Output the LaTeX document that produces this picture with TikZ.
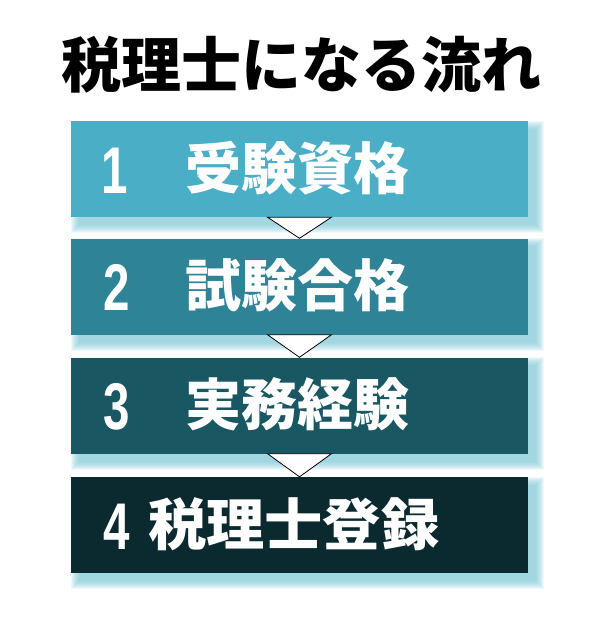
\documentclass[tikz,border=0pt]{standalone}
\usepackage{fontspec}
\usepackage{tikz}
\usetikzlibrary{calc,backgrounds}
\newfontfamily\jpfont{Noto Sans CJK JP}
\newfontfamily\numfont{Liberation Sans}
\definecolor{stepone}{RGB}{74,174,199}
\definecolor{steptwo}{RGB}{46,131,150}
\definecolor{stepthree}{RGB}{25,87,99}
\definecolor{stepfour}{RGB}{11,42,48}
\definecolor{glow}{RGB}{120,196,212}

\begin{document}
\begin{tikzpicture}[x=1pt,y=-1pt]
\tikzstyle{stepbox} = [minimum width=457pt, minimum height=96pt, inner sep=0pt]
\tikzstyle{num} = [anchor=base, inner sep=0pt, text=white, font=\numfont\bfseries\fontsize{66}{66}\selectfont]
\tikzstyle{word} = [anchor=base west, inner sep=0pt, text=white, font=\jpfont\bfseries\fontsize{56}{56}\selectfont]
\useasboundingbox (0,0) rectangle (601,625);
\node[anchor=base west, inner sep=0pt, font=\jpfont\bfseries\fontsize{60}{60}\selectfont] (title) at (61,87) {税理士になる流れ};
\node[stepbox, fill=stepone] (s1) at (299.5,169) {};
\node[stepbox, fill=steptwo] (s2) at (299.5,286.5) {};
\node[stepbox, fill=stepthree] (s3) at (299.5,405.5) {};
\node[stepbox, fill=stepfour] (s4) at (299.5,525) {};
\node[num] (n1) at (115,193) {\scalebox{0.72}[1]{1}};
\node[num] (n2) at (117,310.5) {\scalebox{0.72}[1]{2}};
\node[num] (n3) at (117,429.5) {\scalebox{0.72}[1]{3}};
\node[num] (n4) at (117,549) {\scalebox{0.72}[1]{4}};
\node[word] (w1) at (185,189) {受験資格};
\node[word] (w2) at (185,306.5) {試験合格};
\node[word] (w3) at (185,425.5) {実務経験};
\node[word] (w4) at (148,545) {\scalebox{1.04}[1]{税理士登録}};
% arrows between the steps
\foreach \a/\b in {s1/s2,s2/s3,s3/s4}
  \draw[fill=white, line width=0.8pt] ($(\a.south)+(-32,0)$) -- ($(\a.south)+(32,0)$) -- (\b.north) -- cycle;
% soft glow under each box
\begin{scope}[on background layer]
\foreach \s in {s1,s2,s3,s4}
  \foreach \r in {0,1,...,8}
    \fill[glow, opacity=0.12] ($(\s.north west)+(8-\r,8-\r)$) rectangle ($(\s.south east)+(8+\r,8+\r)$);
\end{scope}
\end{tikzpicture}
\end{document}
